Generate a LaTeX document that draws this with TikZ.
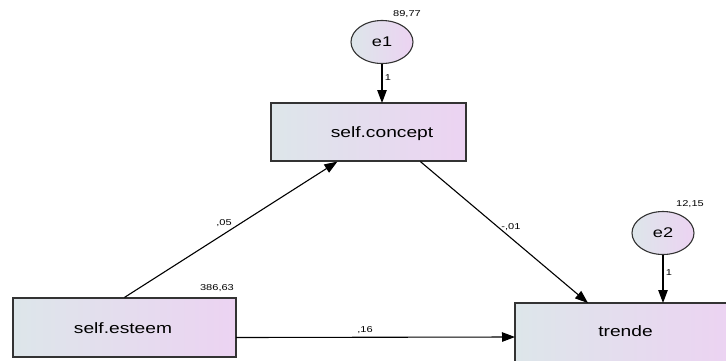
\documentclass[tikz,border=0pt]{standalone}
\usepackage{fontspec}
\setmainfont{Liberation Sans}
\newfontfamily\wfont[FakeStretch=1.28]{Liberation Sans}
\newfontfamily\lfont[FakeStretch=1.3]{Liberation Sans}
\usetikzlibrary{arrows.meta,calc,shapes.geometric}
\begin{document}
\begin{tikzpicture}[x=1pt,y=-1pt,
  obs/.style={draw=black!80,line width=1.2pt,left color=lightbluegray,right color=lightlav,inner sep=0pt},
  lat/.style={ellipse,draw=black!80,line width=1.1pt,left color=lightbluegray,right color=lightlav,inner sep=0pt,minimum width=62pt,minimum height=43pt,font=\lfont\fontsize{14}{16}\selectfont},
  btxt/.style={anchor=base,inner sep=0pt,font=\wfont\fontsize{15}{17}\selectfont},
  path/.style={line width=1.1pt,-{Triangle[length=13pt,width=9.5pt]}},
  lbl/.style={font=\lfont\fontsize{8.5}{10}\selectfont,inner sep=0pt}]
\definecolor{lightbluegray}{HTML}{DDE6EA}
\definecolor{lightlav}{HTML}{ECD3F2}
\useasboundingbox (0,0) rectangle (726,360);
\begin{scope}
\clip (0,0) rectangle (726,360);
\node[obs,minimum width=195pt,minimum height=58pt] (sc) at (368.5,132) {};
\node[obs,minimum width=223pt,minimum height=59pt] (se) at (124.5,327.5) {};
\node[obs,minimum width=215pt,minimum height=59pt] (tr) at (622.5,332.5) {};
\end{scope}
\node[btxt] (sct) at (382,137.7) {self.concept};
\node[btxt] (set) at (123,333.3) {self.esteem};
\node[btxt] (trt) at (625.5,336) {trende};
\node[lat] (e1) at (382,42) {e1};
\node[lat] (e2) at (663,233) {e2};
\node[lbl] (v1) at (407,14.5) {89,77};
\node[lbl] (v2) at (690,204.5) {12,15};
\node[lbl] (v3) at (217,288.5) {386,63};
\coordinate (scin) at ($(sc.south west)+(67,0)$);
\coordinate (scout) at ($(sc.south west)+(150,0)$);
\coordinate (trin1) at (588,303);
\coordinate (trin2) at (663,303);
\coordinate (trin3) at (515,337);
\coordinate (sc1) at (382,103);
\coordinate (seout) at (236,337.5);
\draw[path] (e1) -- (sc1);
\draw[path] (e2) -- (trin2);
\draw[path] (se.north) -- (scin);
\draw[path] (scout) -- (trin1);
\draw[path] (seout) -- (trin3);
\node[lbl] (l1) at (388,77.5) {1};
\node[lbl] (l2) at (669,272.5) {1};
\node[lbl] (l3) at (224,223.5) {,05};
\node[lbl] (l4) at (511,227.5) {-,01};
\node[lbl] (l5) at (365,330) {,16};
\end{tikzpicture}
\end{document}
